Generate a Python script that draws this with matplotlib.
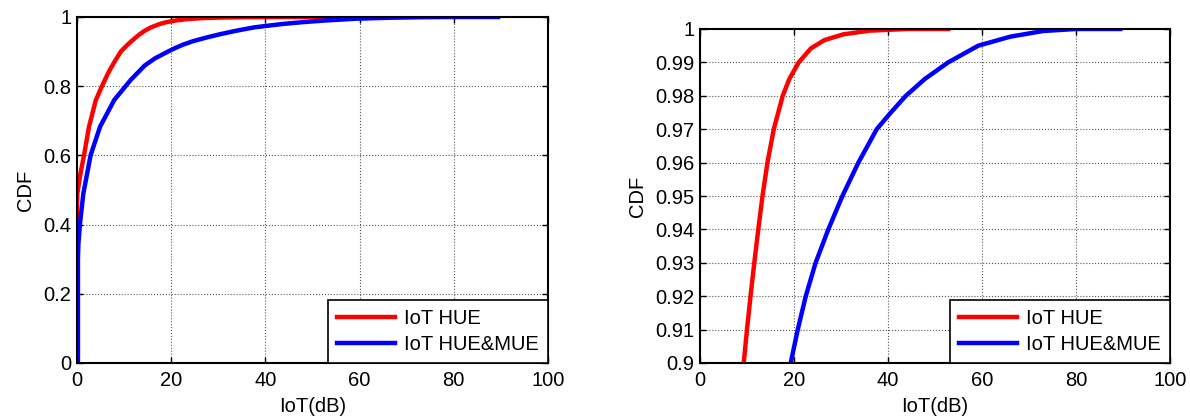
import matplotlib
matplotlib.use("Agg")
import matplotlib.pyplot as plt

plt.rcParams['font.family'] = ['Liberation Sans', 'DejaVu Sans']

# CDF of IoT
hue_x = [0, 0, 0.07, 0.7, 1.5, 2.55, 4.0, 5.4, 6.8, 8.2, 9.3, 10.0, 10.75, 11.55,
         12.4, 13.3, 14.35, 15.7, 17.6, 19.0, 21.0, 23.6, 26.5, 30.5, 36, 44,
         52.8]
hue_y = [0, 0.45, 0.49, 0.545, 0.601, 0.683, 0.76, 0.803, 0.843, 0.876, 0.9,
         0.91, 0.92, 0.93, 0.94, 0.95, 0.96, 0.97, 0.98, 0.985, 0.99, 0.9942,
         0.9967, 0.9984, 0.9995, 1.0, 1.0]
mue_x = [0.2, 0.2, 0.3, 0.64, 1.35, 2.9, 4.9, 7.9, 11.4, 14.4, 16.5, 19.3,
         20.8, 22.5, 24.6, 27.3, 30.3, 33.7, 37.6, 40.3, 43.8, 47.8, 52.8,
         59.2, 66, 73, 80, 89.4]
mue_y = [0, 0.3, 0.345, 0.404, 0.49, 0.601, 0.683, 0.76, 0.818, 0.86, 0.88,
         0.9, 0.91, 0.92, 0.93, 0.94, 0.95, 0.96, 0.97, 0.9745, 0.98, 0.985,
         0.99, 0.995, 0.9977, 0.9994, 1.0, 1.0]
labels = ['IoT HUE', 'IoT HUE&MUE']

left_yticks = [0, 0.2, 0.4, 0.6, 0.8, 1]
left_ylabels = ['0', '0.2', '0.4', '0.6', '0.8', '1']
right_yticks = [0.9, 0.91, 0.92, 0.93, 0.94, 0.95, 0.96, 0.97, 0.98, 0.99, 1]
right_ylabels = ['0.9', '0.91', '0.92', '0.93', '0.94', '0.95', '0.96',
                 '0.97', '0.98', '0.99', '1']
xticks = [0, 20, 40, 60, 80, 100]

W, H = 1190, 418
fig = plt.figure(figsize=(W / 100, H / 100), dpi=100, facecolor='white')
ax1 = fig.add_axes([77 / W, (H - 363) / H, 471 / W, 346 / H])
ax2 = fig.add_axes([700 / W, (H - 363) / H, 470 / W, 334 / H])


def style(ax, yticks, ylabels, ylim):
    ax.plot(hue_x, hue_y, color='#ff0000', lw=3.2, label=labels[0],
            solid_joinstyle='round')
    ax.plot(mue_x, mue_y, color='#0000ff', lw=3.2, label=labels[1],
            solid_joinstyle='round')
    ax.set_xlim(0, 100)
    ax.set_ylim(*ylim)
    ax.set_xticks(xticks)
    ax.set_yticks(yticks)
    ax.set_yticklabels(ylabels)
    ax.grid(True, color='#555555', ls=':', lw=0.8)
    ax.tick_params(direction='in', top=True, right=True, labelsize=14.5,
                   length=4, width=1)
    ax.tick_params(axis='x', pad=6)
    ax.tick_params(axis='y', pad=4)
    for s in ax.spines.values():
        s.set_linewidth(1.5)
    ax.set_xlabel('IoT(dB)', fontsize=14.5, labelpad=5)
    ax.set_ylabel('CDF', fontsize=14.5, labelpad=6)
    leg = ax.legend(loc='lower right', fontsize=14.5, fancybox=False,
                    framealpha=1, edgecolor='black', borderaxespad=0,
                    handlelength=2.9, handletextpad=0.45, labelspacing=0.35,
                    borderpad=0.45)
    leg.get_frame().set_linewidth(1.2)


style(ax1, left_yticks, left_ylabels, (0, 1))
style(ax2, right_yticks, right_ylabels, (0.9, 1))

fig.savefig('out.png', dpi=100, facecolor='white')
